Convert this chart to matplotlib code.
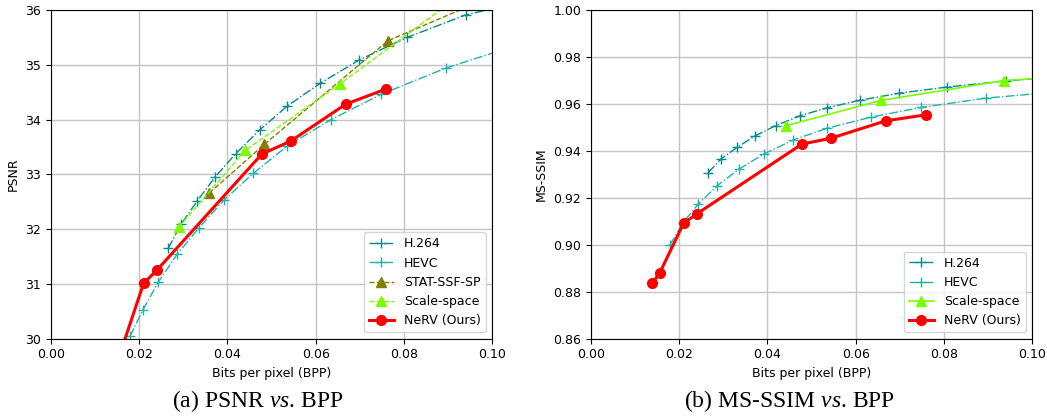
import matplotlib
matplotlib.use("Agg")
import matplotlib.pyplot as plt

# bits per pixel values for each method
h264_bpp = [0.0266, 0.0295, 0.0332, 0.0372, 0.0419, 0.0473, 0.0536, 0.0610, 0.0699, 0.0807, 0.0940, 0.1120]
hevc_bpp = [0.0179, 0.0208, 0.0243, 0.0286, 0.0336, 0.0392, 0.0459, 0.0536, 0.0635, 0.0748, 0.0895, 0.1080]
stat_bpp = [0.0359, 0.0484, 0.0764, 0.1000]
scale_bpp_psnr = [0.0290, 0.0441, 0.0655, 0.0950]
scale_bpp_ssim = [0.0441, 0.0657, 0.0937, 0.1200]
nerv_bpp = [0.0139, 0.0156, 0.0210, 0.0240, 0.0478, 0.0544, 0.0668, 0.0760]

# PSNR
h264_psnr = [31.65, 32.09, 32.52, 32.95, 33.38, 33.81, 34.25, 34.66, 35.09, 35.50, 35.91, 36.25]
hevc_psnr = [30.04, 30.52, 31.03, 31.54, 32.03, 32.53, 33.02, 33.52, 34.00, 34.46, 34.94, 35.42]
stat_psnr = [32.66, 33.55, 35.44, 36.25]
scale_psnr = [32.04, 33.44, 34.65, 36.40]
nerv_psnr = [29.40, 29.71, 31.01, 31.25, 33.37, 33.61, 34.28, 34.56]

# MS-SSIM
h264_ssim = [0.9308, 0.9366, 0.9416, 0.9464, 0.9508, 0.9549, 0.9584, 0.9616, 0.9646, 0.9672, 0.9698, 0.9725]
hevc_ssim = [0.8999, 0.9093, 0.9173, 0.9252, 0.9323, 0.9387, 0.9447, 0.9497, 0.9544, 0.9585, 0.9625, 0.9655]
scale_ssim = [0.9507, 0.9615, 0.9700, 0.9730]
nerv_ssim = [0.8836, 0.8881, 0.9092, 0.9132, 0.9429, 0.9454, 0.9528, 0.9554]

xticks = [0, 0.02, 0.04, 0.06, 0.08, 0.1]

plt.rcParams["mathtext.fontset"] = "custom"
plt.rcParams["mathtext.rm"] = "Liberation Serif"
plt.rcParams["mathtext.it"] = "Liberation Serif:italic"

fig = plt.figure(figsize=(10.47, 4.17), dpi=100)
ax1 = fig.add_axes([0.0487, 0.1878, 0.4212, 0.788])
ax2 = fig.add_axes([0.5645, 0.1878, 0.4212, 0.788])

kw_h264 = dict(color="darkcyan", linestyle="-.", marker="+", lw=1, ms=7, label="H.264")
kw_hevc = dict(color="lightseagreen", linestyle="-.", marker="+", lw=1, ms=7, label="HEVC")
kw_nerv = dict(color="red", linestyle="-", marker="o", lw=2.2, ms=7, label="NeRV (Ours)")

ax1.plot(h264_bpp, h264_psnr, **kw_h264)
ax1.plot(hevc_bpp, hevc_psnr, **kw_hevc)
ax1.plot(stat_bpp, stat_psnr, color="olive", linestyle="--", marker="^", lw=1, ms=7, label="STAT-SSF-SP")
ax1.plot(scale_bpp_psnr, scale_psnr, color="lawngreen", linestyle="--", marker="^", lw=1, ms=7, label="Scale-space")
ax1.plot(nerv_bpp, nerv_psnr, **kw_nerv)
ax1.set_xlim(0, 0.1)
ax1.set_ylim(30, 36)
ax1.set_ylabel("PSNR", fontsize=9)

ax2.plot(h264_bpp, h264_ssim, **kw_h264)
ax2.plot(hevc_bpp, hevc_ssim, **kw_hevc)
ax2.plot(scale_bpp_ssim, scale_ssim, color="lawngreen", linestyle="-", marker="^", lw=1.2, ms=7, label="Scale-space")
ax2.plot(nerv_bpp, nerv_ssim, **kw_nerv)
ax2.set_xlim(0, 0.1)
ax2.set_ylim(0.86, 1.0)
ax2.set_ylabel("MS-SSIM", fontsize=9)

for ax in (ax1, ax2):
    ax.set_xticks(xticks)
    ax.set_xlabel("Bits per pixel (BPP)", fontsize=9)
    ax.tick_params(labelsize=9)
    ax.grid(True, color="#c4c4c4", lw=1)
    ax.set_axisbelow(True)
    ax.legend(loc="lower right", fontsize=9, framealpha=0.8)

cap = dict(fontsize=17, family="Liberation Serif", ha="center", va="center")
fig.text(257.5 / 1047, 1 - 401 / 417, "(a) PSNR $\\mathit{vs}$. BPP", **cap)
fig.text(790 / 1047, 1 - 401 / 417, "(b) MS-SSIM $\\mathit{vs}$. BPP", **cap)

fig.savefig("out.png", dpi=100)
